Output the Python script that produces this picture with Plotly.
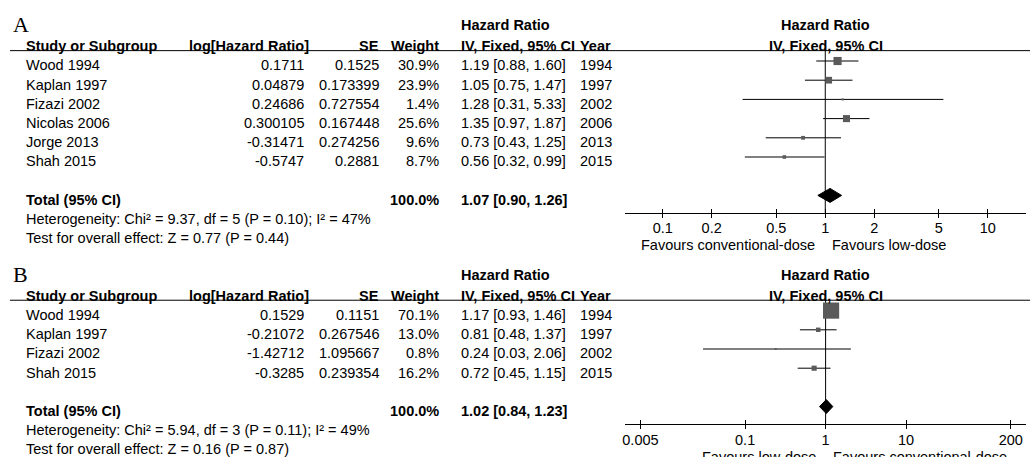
import math
import plotly.graph_objects as go

W, H = 1030, 457

# ---------------- data: panel A ----------------
a_studies = ["Wood 1994", "Kaplan 1997", "Fizazi 2002", "Nicolas 2006", "Jorge 2013", "Shah 2015"]
a_loghr = [0.1711, 0.04879, 0.24686, 0.300105, -0.31471, -0.5747]
a_se = [0.1525, 0.173399, 0.727554, 0.167448, 0.274256, 0.2881]
a_weight = [30.9, 23.9, 1.4, 25.6, 9.6, 8.7]
a_hr = [1.19, 1.05, 1.28, 1.35, 0.73, 0.56]
a_lo = [0.88, 0.75, 0.31, 0.97, 0.43, 0.32]
a_hi = [1.60, 1.47, 5.33, 1.87, 1.25, 0.99]
a_year = [1994, 1997, 2002, 2006, 2013, 2015]
a_total_weight = 100.0
a_total = [1.07, 0.90, 1.26]
a_het = "Heterogeneity: Chi² = 9.37, df = 5 (P = 0.10); I² = 47%"
a_test = "Test for overall effect: Z = 0.77 (P = 0.44)"
a_ticks = [0.1, 0.2, 0.5, 1, 2, 5, 10]
a_favours = ["Favours conventional-dose", "Favours low-dose"]

# ---------------- data: panel B ----------------
b_studies = ["Wood 1994", "Kaplan 1997", "Fizazi 2002", "Shah 2015"]
b_loghr = [0.1529, -0.21072, -1.42712, -0.3285]
b_se = [0.1151, 0.267546, 1.095667, 0.239354]
b_weight = [70.1, 13.0, 0.8, 16.2]
b_hr = [1.17, 0.81, 0.24, 0.72]
b_lo = [0.93, 0.48, 0.03, 0.45]
b_hi = [1.46, 1.37, 2.06, 1.15]
b_year = [1994, 1997, 2002, 2015]
b_total_weight = 100.0
b_total = [1.02, 0.84, 1.23]
b_het = "Heterogeneity: Chi² = 5.94, df = 3 (P = 0.11); I² = 49%"
b_test = "Test for overall effect: Z = 0.16 (P = 0.87)"
b_ticks = [0.005, 0.1, 1, 10, 200]
b_favours = ["Favours low-dose", "Favours conventional-dose"]

# ---------------- layout geometry ----------------
FONT = "Liberation Sans, Arial, sans-serif"
FS = 14.5
ROW_PX = 19.2
ROW0_PX = 61.0
TEXT_SHIFT = -4.3
Y_RANGE = [(H - ROW0_PX) / ROW_PX, -ROW0_PX / ROW_PX]

COL_STUDY = 22.7
COL_LOG_R, COL_LOG_HDR = 302.0, 306.5
COL_SE_R, COL_SE_HDR = 377.0, 377.0
COL_W_R = 437.3
COL_CI_L = 459.5
COL_YEAR_L = 579.0
FOREST = [624.3, 1025.7]
FOREST_MID = (FOREST[0] + FOREST[1]) / 2
SQUARE = "#5a5a5a"


def row_to_paper(r):
    return 1 - (ROW0_PX + ROW_PX * r) / H


fig = go.Figure()
annotations = []
shapes = []


def txt(text, xpx, row, anchor="left", bold=False, size=FS, family=FONT, yshift=TEXT_SHIFT):
    if bold:
        text = "<b>" + text + "</b>"
    annotations.append(dict(text=text, x=xpx / W, xref="paper", y=row, yref="y",
                            xanchor=anchor, yanchor="middle", showarrow=False,
                            borderpad=0, borderwidth=0, yshift=yshift,
                            font=dict(family=family, size=size, color="#000000")))


def panel(label, off, studies, loghr, se, weight, hr, lo, hi, year, total_weight, total,
          het, test, ticks, favours, xa, xa_in, log_range):
    n = len(studies)
    total_row = off + n + 1
    axis_row = total_row + 0.92
    line_row = off - 0.54

    # panel letter and headers
    txt(label, 10, off - 2, family="Liberation Serif, Times New Roman, serif", size=22,
        yshift=TEXT_SHIFT + 2)
    txt("Hazard Ratio", COL_CI_L, off - 2, bold=True, yshift=TEXT_SHIFT + 1.5)
    txt("Hazard Ratio", FOREST_MID, off - 2, anchor="center", bold=True, yshift=TEXT_SHIFT + 1.5)
    txt("Study or Subgroup", COL_STUDY, off - 1, bold=True)
    txt("log[Hazard Ratio]", COL_LOG_HDR, off - 1, anchor="right", bold=True)
    txt("SE", COL_SE_HDR, off - 1, anchor="right", bold=True)
    txt("Weight", COL_W_R, off - 1, anchor="right", bold=True)
    txt("IV, Fixed, 95% CI", COL_CI_L, off - 1, bold=True)
    txt("Year", COL_YEAR_L, off - 1, bold=True)
    txt("IV, Fixed, 95% CI", FOREST_MID, off - 1, anchor="center", bold=True)
    shapes.append(dict(type="line", xref="paper", yref="y", x0=7 / W, x1=1,
                       y0=line_row, y1=line_row, layer="below",
                       line=dict(color="#000000", width=1)))

    # study rows
    for i in range(n):
        r = off + i
        txt(studies[i], COL_STUDY, r)
        txt(f"{loghr[i]}", COL_LOG_R, r, anchor="right")
        txt(f"{se[i]}", COL_SE_R, r, anchor="right")
        txt(f"{weight[i]:.1f}%", COL_W_R, r, anchor="right")
        txt(f"{hr[i]:.2f} [{lo[i]:.2f}, {hi[i]:.2f}]", COL_CI_L, r)
        txt(f"{year[i]}", COL_YEAR_L, r)

    # total and notes
    txt("Total (95% CI)", COL_STUDY, total_row, bold=True)
    txt(f"{total_weight:.1f}%", COL_W_R, total_row, anchor="right", bold=True)
    txt(f"{total[0]:.2f} [{total[1]:.2f}, {total[2]:.2f}]", COL_CI_L, total_row, bold=True)
    txt(het, COL_STUDY, total_row + 1)
    txt(test, COL_STUDY, total_row + 2)

    yref = "y"
    # vertical line of no effect
    fig.add_trace(go.Scatter(x=[1, 1], y=[line_row, axis_row], mode="lines",
                             line=dict(color="#000000", width=1), xaxis=xa, yaxis=yref,
                             hoverinfo="skip", showlegend=False))
    # CI whiskers
    cx, cy = [], []
    for i in range(n):
        cx += [lo[i], hi[i], None]
        cy += [off + i, off + i, None]
    fig.add_trace(go.Scatter(x=cx, y=cy, mode="lines", line=dict(color="#000000", width=1),
                             xaxis=xa, yaxis=yref, hoverinfo="skip", showlegend=False))
    # weighted squares
    fig.add_trace(go.Scatter(x=hr, y=[off + i for i in range(n)], mode="markers",
                             marker=dict(symbol="square", color=SQUARE, opacity=1,
                                         size=[1.8 + 0.205 * w for w in weight],
                                         line=dict(width=0)),
                             xaxis=xa, yaxis=yref, showlegend=False))
    # pooled diamond
    h = 7.0 / ROW_PX
    fig.add_trace(go.Scatter(x=[total[1], total[0], total[2], total[0], total[1]],
                             y=[total_row, total_row - h, total_row, total_row + h, total_row],
                             mode="lines", fill="toself", fillcolor="#000000",
                             line=dict(color="#000000", width=1), xaxis=xa, yaxis=yref,
                             showlegend=False, hoverinfo="skip"))
    # invisible point for the inside-tick overlay axis
    fig.add_trace(go.Scatter(x=[1], y=[total_row], mode="markers", marker=dict(opacity=0),
                             xaxis=xa_in, yaxis=yref, showlegend=False, hoverinfo="skip"))

    pos = row_to_paper(axis_row)
    common = dict(type="log", range=log_range, domain=[FOREST[0] / W, FOREST[1] / W],
                  anchor="free", position=pos, showgrid=False, zeroline=False,
                  tickvals=ticks, ticktext=[f"{t:g}" for t in ticks], tickcolor="#000000",
                  ticklen=4, tickwidth=1, fixedrange=True)
    ax_out = dict(common, showline=True, linecolor="#000000", linewidth=1, ticks="outside",
                  ticklabelstandoff=-2,
                  tickfont=dict(family=FONT, size=FS, color="#000000"))
    ax_in = dict(common, showline=False, ticks="inside", showticklabels=False,
                 overlaying=xa)
    # favours labels
    fav_row = total_row + 2.6
    annotations.append(dict(text=favours[0], x=0, xref=xa, y=fav_row, yref="y",
                            xanchor="right", yanchor="middle", xshift=-10, showarrow=False,
                            borderpad=0, borderwidth=0,
                            font=dict(family=FONT, size=FS, color="#000000")))
    annotations.append(dict(text=favours[1], x=0, xref=xa, y=fav_row, yref="y",
                            xanchor="left", yanchor="middle", xshift=7, showarrow=False,
                            borderpad=0, borderwidth=0,
                            font=dict(family=FONT, size=FS, color="#000000")))
    return ax_out, ax_in


axA, axA_in = panel("A", 0, a_studies, a_loghr, a_se, a_weight, a_hr, a_lo, a_hi, a_year,
                    a_total_weight, a_total, a_het, a_test, a_ticks, a_favours,
                    "x", "x3", [-1.229, 1.233])
axB, axB_in = panel("B", 13, b_studies, b_loghr, b_se, b_weight, b_hr, b_lo, b_hi, b_year,
                    b_total_weight, b_total, b_het, b_test, b_ticks, b_favours,
                    "x2", "x4", [-2.487, 2.487])

fig.update_layout(
    width=W, height=H, margin=dict(l=0, r=0, t=0, b=0),
    paper_bgcolor="#ffffff", plot_bgcolor="rgba(0,0,0,0)",
    showlegend=False,
    xaxis=axA, xaxis2=axB, xaxis3=axA_in, xaxis4=axB_in,
    yaxis=dict(range=Y_RANGE, domain=[0, 1], visible=False, fixedrange=True),
    annotations=annotations, shapes=shapes,
    font=dict(family=FONT, size=FS, color="#000000"),
)

fig.write_html("out.html", config={"displayModeBar": False})
